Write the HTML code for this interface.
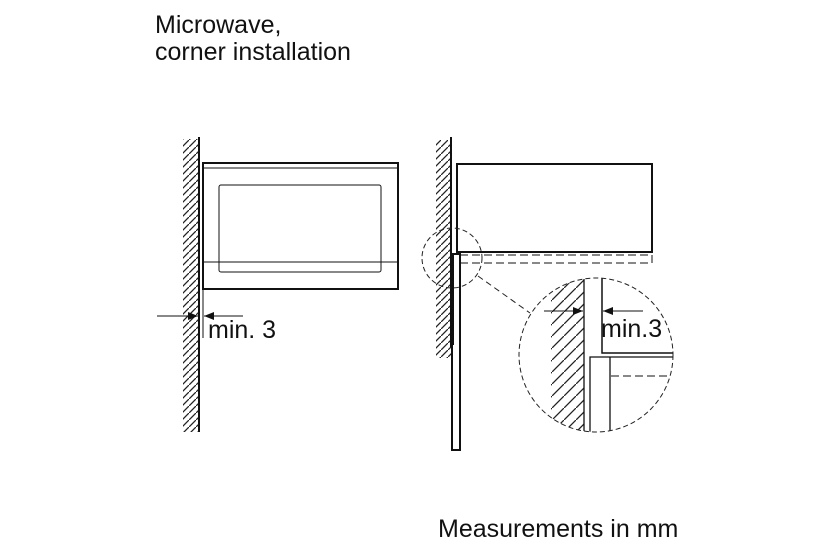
<!DOCTYPE html>
<html><head><meta charset="utf-8"><style>
html,body{margin:0;padding:0;background:#fff;width:833px;height:555px;overflow:hidden}
svg{display:block}
text{font-family:"Liberation Sans",Arial,sans-serif;fill:#111}
</style></head><body>
<svg width="833" height="555" viewBox="0 0 833 555" xmlns="http://www.w3.org/2000/svg">
<defs>
<pattern id="h" width="7" height="7" patternUnits="userSpaceOnUse">
<path d="M-1,8 L8,-1" stroke="#222" stroke-width="1.3"/>
</pattern>
<pattern id="h2" width="12" height="12" patternUnits="userSpaceOnUse">
<path d="M-1,13 L13,-1" stroke="#222" stroke-width="1.3"/>
</pattern>
<marker id="a" markerWidth="10" markerHeight="8" refX="10" refY="4" orient="auto" markerUnits="userSpaceOnUse">
<path d="M0,0 L10,4 L0,8 z" fill="#111"/>
</marker>
</defs>
<text x="155" y="33" font-size="25">Microwave,</text>
<text x="155" y="60" font-size="25">corner installation</text>
<text x="438" y="537" font-size="25">Measurements in mm</text>

<!-- left diagram -->
<rect x="183" y="139" width="15" height="293" fill="url(#h)"/>
<line x1="199" y1="137" x2="199" y2="432" stroke="#111" stroke-width="2"/>
<rect x="203" y="163" width="195" height="126" fill="none" stroke="#111" stroke-width="2"/>
<line x1="203" y1="168" x2="398" y2="168" stroke="#111" stroke-width="1"/>
<rect x="219" y="185" width="162" height="87" rx="2" fill="none" stroke="#111" stroke-width="1"/>
<line x1="203" y1="262" x2="398" y2="262" stroke="#111" stroke-width="1"/>
<line x1="203" y1="289" x2="203" y2="338" stroke="#111" stroke-width="1"/>
<line x1="157" y1="316" x2="198" y2="316" stroke="#111" stroke-width="1" marker-end="url(#a)"/>
<line x1="243" y1="316" x2="204" y2="316" stroke="#111" stroke-width="1" marker-end="url(#a)"/>
<text x="208" y="338" font-size="25">min. 3</text>

<!-- right diagram -->
<rect x="436" y="140" width="15" height="218" fill="url(#h)"/>
<line x1="451" y1="137" x2="451" y2="347" stroke="#111" stroke-width="2"/>
<rect x="457" y="164" width="195" height="88" fill="none" stroke="#111" stroke-width="2"/>
<rect x="452" y="254" width="8" height="196" fill="#fff" stroke="#111" stroke-width="2"/>
<line x1="452" y1="254" x2="452" y2="345" stroke="#111" stroke-width="4"/>
<line x1="460" y1="255" x2="652" y2="255" stroke="#111" stroke-width="1" stroke-dasharray="8,4"/>
<line x1="460" y1="263" x2="652" y2="263" stroke="#111" stroke-width="1" stroke-dasharray="8,4"/>
<line x1="652" y1="255" x2="652" y2="263" stroke="#111" stroke-width="1"/>
<circle cx="452" cy="258" r="30" fill="none" stroke="#222" stroke-width="1" stroke-dasharray="5,3"/>
<line x1="478" y1="276" x2="530" y2="313" stroke="#222" stroke-width="1" stroke-dasharray="6,4"/>

<clipPath id="c"><circle cx="596" cy="355" r="77"/></clipPath>
<g clip-path="url(#c)">
<rect x="519" y="278" width="65" height="160" fill="url(#h2)"/>
<rect x="519" y="278" width="32" height="160" fill="#fff"/>
<line x1="584" y1="278" x2="584" y2="432" stroke="#111" stroke-width="1.3"/>
<polyline points="602,278 602,353 675,353" fill="none" stroke="#111" stroke-width="1.5"/>
<polyline points="590,432 590,357 675,357" fill="none" stroke="#111" stroke-width="1.3"/>
<line x1="610" y1="357" x2="610" y2="432" stroke="#111" stroke-width="1.3"/>
<line x1="611" y1="376" x2="675" y2="376" stroke="#111" stroke-width="1" stroke-dasharray="8,4"/>
</g>
<circle cx="596" cy="355" r="77" fill="none" stroke="#222" stroke-width="1" stroke-dasharray="5,3"/>
<line x1="544" y1="311" x2="583" y2="311" stroke="#111" stroke-width="1" marker-end="url(#a)"/>
<line x1="643" y1="311" x2="603" y2="311" stroke="#111" stroke-width="1" marker-end="url(#a)"/>
<text x="601" y="337" font-size="25">min.3</text>
</svg>
</body></html>
